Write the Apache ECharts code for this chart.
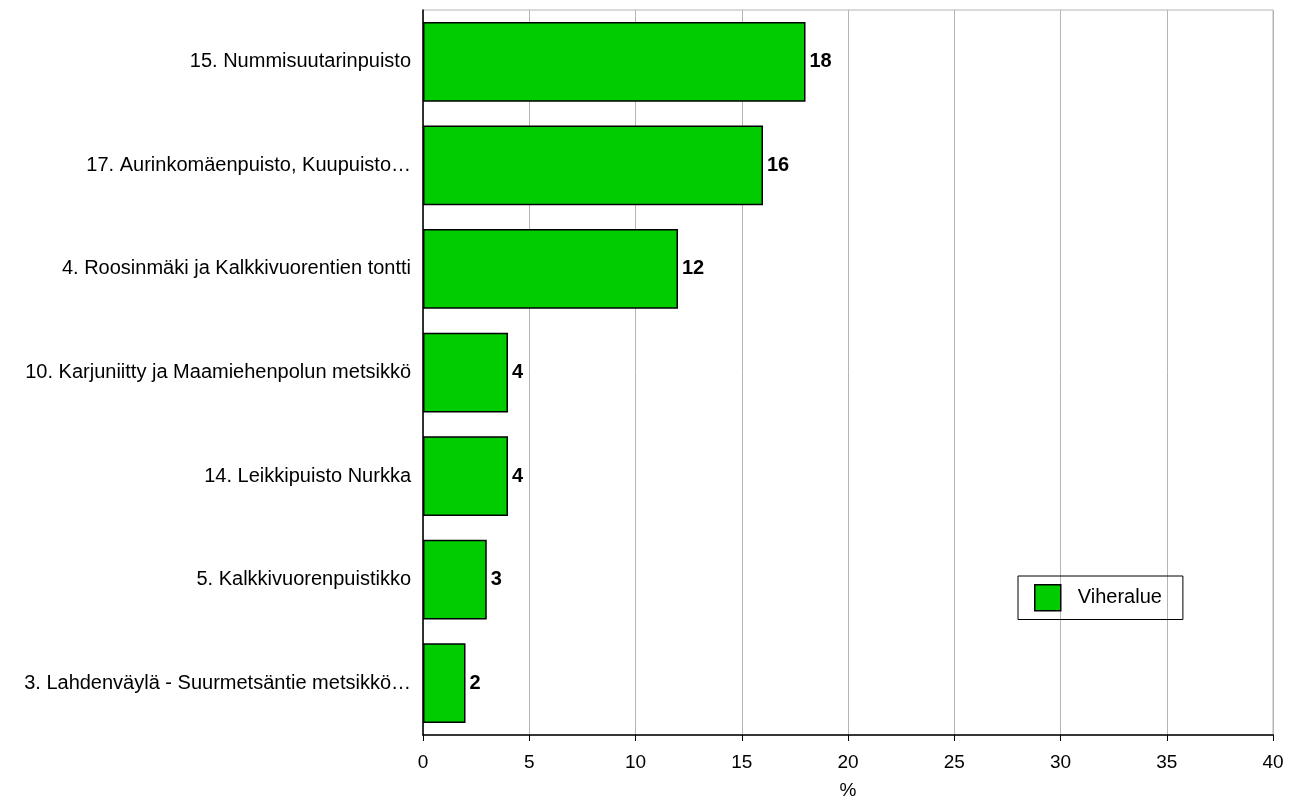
<!DOCTYPE html>
<html>
<head>
<meta charset="utf-8">
<script src="https://cdn.jsdelivr.net/npm/echarts@6/dist/echarts.min.js"></script>
<style>
  html, body { margin: 0; padding: 0; background: #fff; }
  #main { width: 1289px; height: 798px; }
</style>
</head>
<body>
<div id="main"></div>
<script>
// alueet ja prosentit
var categories = [
  '15. Nummisuutarinpuisto',
  '17. Aurinkomäenpuisto, Kuupuisto…',
  '4. Roosinmäki ja Kalkkivuorentien tontti',
  '10. Karjuniitty ja Maamiehenpolun metsikkö',
  '14. Leikkipuisto Nurkka',
  '5. Kalkkivuorenpuistikko',
  '3. Lahdenväylä - Suurmetsäntie metsikkö…'
];
var values = [18, 16, 12, 4, 4, 3, 2];
var seriesName = 'Viheralue';

var chart = echarts.init(document.getElementById('main'));
var font = 'Liberation Sans, Arial, sans-serif';

var option = {
  animation: false,
  textStyle: { fontFamily: font },
  grid: {
    left: 423, right: 16, top: 10, bottom: 63,
    outerBoundsMode: 'none',
    containLabel: false,
    show: true,
    borderColor: '#b4b4b4',
    borderWidth: 1
  },
  legend: {
    data: [seriesName],
    left: 1018, top: 576,
    orient: 'vertical',
    itemWidth: 26, itemHeight: 26,
    padding: [8, 21, 8, 16],
    borderColor: '#000', borderWidth: 1,
    icon: 'rect',
    itemStyle: { borderColor: '#000', borderWidth: 1.5 },
    textStyle: { fontSize: 20, color: '#000', fontFamily: font, padding: [0, 0, 0, 12] }
  },
  xAxis: {
    type: 'value',
    min: 0, max: 40, interval: 5,
    name: '%',
    nameLocation: 'middle',
    nameGap: 46,
    nameTextStyle: { fontSize: 19, color: '#000', fontFamily: font },
    axisLine: { show: true, lineStyle: { color: '#000', width: 1.5 } },
    axisTick: { show: true, length: 6, lineStyle: { color: '#000' } },
    axisLabel: { fontSize: 19, color: '#000', margin: 18, fontFamily: font },
    splitLine: { show: true, lineStyle: { color: '#b4b4b4', width: 1 } }
  },
  yAxis: {
    type: 'category',
    data: categories,
    inverse: true,
    axisLine: { show: true, lineStyle: { color: '#000', width: 1.5 } },
    axisTick: { show: false },
    axisLabel: { fontSize: 20, color: '#000', margin: 12, fontFamily: font }
  },
  series: [{
    name: seriesName,
    type: 'bar',
    data: values,
    barCategoryGap: '23%',
    itemStyle: { color: '#00cc00', borderColor: '#000', borderWidth: 1.5 },
    label: {
      show: true,
      position: 'right',
      distance: 4,
      fontSize: 20,
      fontWeight: 'bold',
      color: '#000',
      fontFamily: font
    }
  }]
};

chart.setOption(option);
window.addEventListener('resize', function () { chart.resize(); });
</script>
</body>
</html>
